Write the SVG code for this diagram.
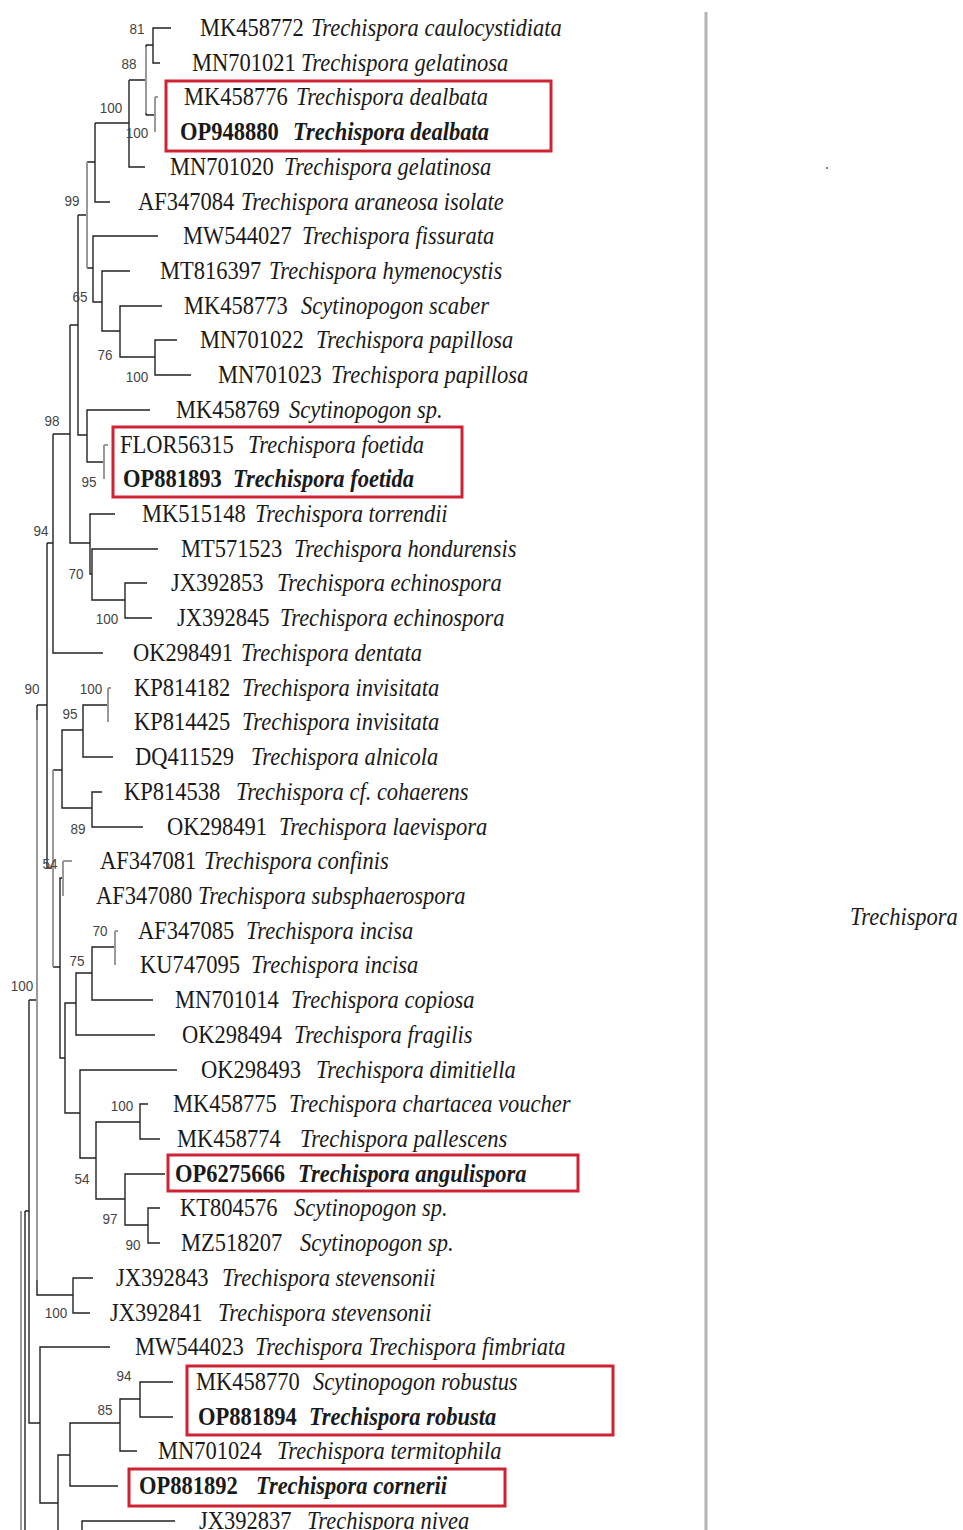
<svg xmlns="http://www.w3.org/2000/svg" width="963" height="1530" viewBox="0 0 963 1530">
<style>
text{font-family:"Liberation Serif","Times New Roman",serif;font-size:25px;fill:#1a1a1a}
.sp{font-style:italic}
.b{font-weight:bold}
.bs{font-family:"Liberation Sans",Arial,sans-serif;font-size:15px;fill:#444;text-anchor:middle}
.br{fill:none;stroke:#222;stroke-width:1.4}
.gr{fill:none;stroke:#999;stroke-width:2}
.box{fill:none;stroke:#cf2233;stroke-width:3}
</style>
<rect width="963" height="1530" fill="#fff"/>
<g id="connectors">
<path class="br" d="M171,28H153V63H160 M153,45H146 M146,115H155 M129,80H146V45 M146,80V115 M145,167H129V80 M129,123H95 M95,123V202H110 M95,162H87 M87,215H78 M87,268H93 M158,236H93V302H102 M130,271H102V331H120 M162,306H120V357H155 M177,340H155V375H191 M78,215V435H87 M78,325H70 M150,410H87V462H104 M70,325V543H90 M70,434H53 M115,514H90V574H92 M158,549H92V600H125 M147,583H125V618H152 M53,434V653H103 M53,543H47 M47,543V868H53 M47,705H37 M62,770H53 M60,967H53 M83,730H62V808H92 M108,705H83V757H113 M102,792H92V827H143 M63,878H60V1058H65 M76,1003H65V1113H80 M92,973H76V1035H155 M115,947H92V1000H153 M177,1070H80V1158H96 M140,1122H96V1199H125 M148,1104H140V1139H160 M165,1174H125V1225H148 M160,1208H148V1243H160 M37,705V1295H73 M29,1000H37 M93,1278H73V1313H90 M29,1000V1423H40 M25,1211H29 M25,1211V1530 M110,1347H40V1503H58 M40,1423H29 M58,1530V1455H70 M120,1423H70V1486H118 M140,1399H120V1451H137 M173,1382H140V1417H173 M82,1530V1521H175"/>
<path class="gr" d="M146,47V113 M87,162V268 M155,97V132 M158,97H155 M104,445V479 M108,445H104 M53,770V967 M108,688V722 M111,688H108 M63,861V896 M72,861H63 M115,931V965 M118,931H115 M37,720V1280 M21,1211V1530"/>
</g>
<g id="boxes">
<rect class="box" x="166" y="81" width="385" height="70"/>
<rect class="box" x="113" y="427" width="349" height="70"/>
<rect class="box" x="168" y="1155" width="410" height="36"/>
<rect class="box" x="187" y="1366" width="426" height="69"/>
<rect class="box" x="129" y="1469" width="376" height="37"/>
</g>
<g id="leaf1" transform="translate(200,36) scale(0.9,1)"><text>MK458772</text><text class="sp" x="123.3">Trechispora caulocystidiata</text></g>
<g id="leaf2" transform="translate(192,71) scale(0.9,1)"><text>MN701021</text><text class="sp" x="121.1">Trechispora gelatinosa</text></g>
<g id="leaf3" transform="translate(184,105) scale(0.9,1)"><text>MK458776</text><text class="sp" x="124.4">Trechispora dealbata</text></g>
<g id="leaf4" transform="translate(180,140) scale(0.9,1)"><text class="b">OP948880</text><text class="sp b" x="125.6">Trechispora dealbata</text></g>
<g id="leaf5" transform="translate(170,175) scale(0.9,1)"><text>MN701020</text><text class="sp" x="126.7">Trechispora gelatinosa</text></g>
<g id="leaf6" transform="translate(138,210) scale(0.9,1)"><text>AF347084</text><text class="sp" x="114.4">Trechispora araneosa isolate</text></g>
<g id="leaf7" transform="translate(183,244) scale(0.9,1)"><text>MW544027</text><text class="sp" x="132.2">Trechispora fissurata</text></g>
<g id="leaf8" transform="translate(160,279) scale(0.9,1)"><text>MT816397</text><text class="sp" x="121.1">Trechispora hymenocystis</text></g>
<g id="leaf9" transform="translate(184,314) scale(0.9,1)"><text>MK458773</text><text class="sp" x="130">Scytinopogon scaber</text></g>
<g id="leaf10" transform="translate(200,348) scale(0.9,1)"><text>MN701022</text><text class="sp" x="128.9">Trechispora papillosa</text></g>
<g id="leaf11" transform="translate(218,383) scale(0.9,1)"><text>MN701023</text><text class="sp" x="125.6">Trechispora papillosa</text></g>
<g id="leaf12" transform="translate(176,418) scale(0.9,1)"><text>MK458769</text><text class="sp" x="125.6">Scytinopogon sp.</text></g>
<g id="leaf13" transform="translate(120,453) scale(0.9,1)"><text>FLOR56315</text><text class="sp" x="142.2">Trechispora foetida</text></g>
<g id="leaf14" transform="translate(123,487) scale(0.9,1)"><text class="b">OP881893</text><text class="sp b" x="122.2">Trechispora foetida</text></g>
<g id="leaf15" transform="translate(142,522) scale(0.9,1)"><text>MK515148</text><text class="sp" x="125.6">Trechispora torrendii</text></g>
<g id="leaf16" transform="translate(181,557) scale(0.9,1)"><text>MT571523</text><text class="sp" x="125.6">Trechispora hondurensis</text></g>
<g id="leaf17" transform="translate(171,591) scale(0.9,1)"><text>JX392853</text><text class="sp" x="117.8">Trechispora echinospora</text></g>
<g id="leaf18" transform="translate(177,626) scale(0.9,1)"><text>JX392845</text><text class="sp" x="114.4">Trechispora echinospora</text></g>
<g id="leaf19" transform="translate(133,661) scale(0.9,1)"><text>OK298491</text><text class="sp" x="120">Trechispora dentata</text></g>
<g id="leaf20" transform="translate(134,696) scale(0.9,1)"><text>KP814182</text><text class="sp" x="120">Trechispora invisitata</text></g>
<g id="leaf21" transform="translate(134,730) scale(0.9,1)"><text>KP814425</text><text class="sp" x="120">Trechispora invisitata</text></g>
<g id="leaf22" transform="translate(135,765) scale(0.9,1)"><text>DQ411529</text><text class="sp" x="128.9">Trechispora alnicola</text></g>
<g id="leaf23" transform="translate(124,800) scale(0.9,1)"><text>KP814538</text><text class="sp" x="124.4">Trechispora cf. cohaerens</text></g>
<g id="leaf24" transform="translate(167,835) scale(0.9,1)"><text>OK298491</text><text class="sp" x="124.4">Trechispora laevispora</text></g>
<g id="leaf25" transform="translate(100,869) scale(0.9,1)"><text>AF347081</text><text class="sp" x="115.6">Trechispora confinis</text></g>
<g id="leaf26" transform="translate(96,904) scale(0.9,1)"><text>AF347080</text><text class="sp" x="113.3">Trechispora subsphaerospora</text></g>
<g id="leaf27" transform="translate(138,939) scale(0.9,1)"><text>AF347085</text><text class="sp" x="120">Trechispora incisa</text></g>
<g id="leaf28" transform="translate(140,973) scale(0.9,1)"><text>KU747095</text><text class="sp" x="123.3">Trechispora incisa</text></g>
<g id="leaf29" transform="translate(175,1008) scale(0.9,1)"><text>MN701014</text><text class="sp" x="128.9">Trechispora copiosa</text></g>
<g id="leaf30" transform="translate(182,1043) scale(0.9,1)"><text>OK298494</text><text class="sp" x="124.4">Trechispora fragilis</text></g>
<g id="leaf31" transform="translate(201,1078) scale(0.9,1)"><text>OK298493</text><text class="sp" x="127.8">Trechispora dimitiella</text></g>
<g id="leaf32" transform="translate(173,1112) scale(0.9,1)"><text>MK458775</text><text class="sp" x="128.9">Trechispora chartacea voucher</text></g>
<g id="leaf33" transform="translate(177,1147) scale(0.9,1)"><text>MK458774</text><text class="sp" x="136.7">Trechispora pallescens</text></g>
<g id="leaf34" transform="translate(175,1182) scale(0.9,1)"><text class="b">OP6275666</text><text class="sp b" x="136.7">Trechispora angulispora</text></g>
<g id="leaf35" transform="translate(180,1216) scale(0.9,1)"><text>KT804576</text><text class="sp" x="126.7">Scytinopogon sp.</text></g>
<g id="leaf36" transform="translate(181,1251) scale(0.9,1)"><text>MZ518207</text><text class="sp" x="132.2">Scytinopogon sp.</text></g>
<g id="leaf37" transform="translate(116,1286) scale(0.9,1)"><text>JX392843</text><text class="sp" x="117.8">Trechispora stevensonii</text></g>
<g id="leaf38" transform="translate(110,1321) scale(0.9,1)"><text>JX392841</text><text class="sp" x="120">Trechispora stevensonii</text></g>
<g id="leaf39" transform="translate(135,1355) scale(0.9,1)"><text>MW544023</text><text class="sp" x="133.3">Trechispora Trechispora fimbriata</text></g>
<g id="leaf40" transform="translate(196,1390) scale(0.9,1)"><text>MK458770</text><text class="sp" x="130">Scytinopogon robustus</text></g>
<g id="leaf41" transform="translate(198,1425) scale(0.9,1)"><text class="b">OP881894</text><text class="sp b" x="123.3">Trechispora robusta</text></g>
<g id="leaf42" transform="translate(158,1459) scale(0.9,1)"><text>MN701024</text><text class="sp" x="132.2">Trechispora termitophila</text></g>
<g id="leaf43" transform="translate(139,1494) scale(0.9,1)"><text class="b">OP881892</text><text class="sp b" x="130">Trechispora cornerii</text></g>
<g id="leaf44" transform="translate(199,1529) scale(0.9,1)"><text>JX392837</text><text class="sp" x="120">Trechispora nivea</text></g>
<g id="support">
<text class="bs" transform="translate(137,34) scale(0.9,1)">81</text>
<text class="bs" transform="translate(129,69) scale(0.9,1)">88</text>
<text class="bs" transform="translate(111,113) scale(0.9,1)">100</text>
<text class="bs" transform="translate(137,138) scale(0.9,1)">100</text>
<text class="bs" transform="translate(72,206) scale(0.9,1)">99</text>
<text class="bs" transform="translate(80,302) scale(0.9,1)">65</text>
<text class="bs" transform="translate(105,360) scale(0.9,1)">76</text>
<text class="bs" transform="translate(137,382) scale(0.9,1)">100</text>
<text class="bs" transform="translate(52,426) scale(0.9,1)">98</text>
<text class="bs" transform="translate(89,487) scale(0.9,1)">95</text>
<text class="bs" transform="translate(41,536) scale(0.9,1)">94</text>
<text class="bs" transform="translate(76,579) scale(0.9,1)">70</text>
<text class="bs" transform="translate(107,624) scale(0.9,1)">100</text>
<text class="bs" transform="translate(32,694) scale(0.9,1)">90</text>
<text class="bs" transform="translate(91,694) scale(0.9,1)">100</text>
<text class="bs" transform="translate(70,719) scale(0.9,1)">95</text>
<text class="bs" transform="translate(78,834) scale(0.9,1)">89</text>
<text class="bs" transform="translate(50,869) scale(0.9,1)">54</text>
<text class="bs" transform="translate(100,936) scale(0.9,1)">70</text>
<text class="bs" transform="translate(77,966) scale(0.9,1)">75</text>
<text class="bs" transform="translate(22,991) scale(0.9,1)">100</text>
<text class="bs" transform="translate(122,1111) scale(0.9,1)">100</text>
<text class="bs" transform="translate(82,1184) scale(0.9,1)">54</text>
<text class="bs" transform="translate(110,1224) scale(0.9,1)">97</text>
<text class="bs" transform="translate(133,1250) scale(0.9,1)">90</text>
<text class="bs" transform="translate(56,1318) scale(0.9,1)">100</text>
<text class="bs" transform="translate(124,1381) scale(0.9,1)">94</text>
<text class="bs" transform="translate(105,1415) scale(0.9,1)">85</text>
</g>
<g id="clade">
<line x1="706" y1="12" x2="706" y2="1530" stroke="#b3b3b3" stroke-width="3"/>
<circle cx="827" cy="168" r="1" fill="#555"/>
<g transform="translate(850,925) scale(0.9,1)"><text class="sp">Trechispora</text></g>
</g>
</svg>
